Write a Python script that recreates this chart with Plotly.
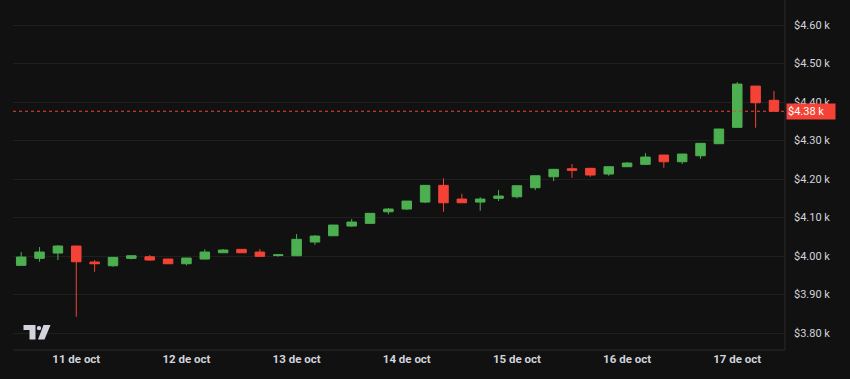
import plotly.graph_objects as go
import pandas as pd

# 4-hour candles, 10 Oct 12:00 -> 17 Oct 08:00
start = "2025-10-10 12:00"
opens  = [3975.8, 3994.0, 4007.8, 4026.0, 3984.4, 3974.8, 3994.0, 3998.2, 3992.2, 3980.0,
          3992.2, 4008.6, 4017.4, 4010.4, 4001.3, 4000.8, 4036.4, 4052.7, 4077.9, 4084.9,
          4115.0, 4122.1, 4140.2, 4183.6, 4148.0, 4140.2, 4149.9, 4154.0, 4177.4, 4205.9,
          4226.7, 4227.8, 4213.0, 4232.0, 4238.1, 4262.3, 4244.9, 4260.5, 4291.7, 4334.2,
          4441.4, 4404.4]
highs  = [4010.4, 4023.4, 4028.6, 4027.0, 3989.6, 3997.4, 4001.3, 4002.6, 3993.0, 3995.3,
          4017.4, 4018.2, 4018.2, 4018.2, 4005.2, 4057.1, 4054.5, 4080.5, 4096.1, 4111.7,
          4124.7, 4143.0, 4184.0, 4201.8, 4161.8, 4153.2, 4171.4, 4183.0, 4209.0, 4226.0,
          4238.9, 4229.3, 4232.5, 4244.1, 4267.5, 4262.3, 4265.5, 4293.5, 4330.5, 4451.8,
          4441.4, 4428.5]
lows   = [3975.5, 3985.2, 3989.6, 3842.4, 3959.2, 3972.2, 3991.4, 3987.8, 3979.2, 3975.8,
          3991.4, 4008.3, 4007.8, 3998.7, 3998.2, 4000.0, 4029.3, 4052.5, 4076.1, 4083.1,
          4108.3, 4119.5, 4137.6, 4115.0, 4138.0, 4117.7, 4142.8, 4149.9, 4171.4, 4194.8,
          4203.3, 4205.9, 4208.5, 4231.5, 4236.3, 4229.3, 4238.9, 4252.7, 4291.5, 4334.0,
          4333.2, 4376.0]
closes = [3997.4, 4010.4, 4026.0, 3985.2, 3980.0, 3996.6, 4000.8, 3989.6, 3980.0, 3994.8,
          4010.4, 4015.6, 4008.6, 3999.2, 4003.1, 4043.4, 4051.9, 4080.5, 4088.3, 4110.9,
          4122.1, 4142.8, 4183.6, 4138.4, 4138.4, 4148.0, 4155.8, 4182.6, 4208.5, 4225.2,
          4222.6, 4210.4, 4232.0, 4241.5, 4257.1, 4244.9, 4264.9, 4292.7, 4329.9, 4446.6,
          4398.1, 4376.0]
times = pd.date_range(start, periods=len(opens), freq="4h")

y_ticks = [3800, 3900, 4000, 4100, 4200, 4300, 4400, 4500, 4600]
y_ticktext = ["$3.80 k", "$3.90 k", "$4.00 k", "$4.10 k", "$4.20 k",
              "$4.30 k", "$4.40 k", "$4.50 k", "$4.60 k"]
x_ticks = ["2025-10-11", "2025-10-12", "2025-10-13", "2025-10-14",
           "2025-10-15", "2025-10-16", "2025-10-17"]
x_ticktext = ["11 de oct", "12 de oct", "13 de oct", "14 de oct",
              "15 de oct", "16 de oct", "17 de oct"]
last_label = "$4.38 k"

GREEN = "#4caf50"
RED = "#f44336"
BG = "#111111"
TXT = "#d1d4dc"

fig = go.Figure(go.Candlestick(
    x=times, open=opens, high=highs, low=lows, close=closes,
    increasing=dict(line=dict(color=GREEN, width=1), fillcolor=GREEN),
    decreasing=dict(line=dict(color=RED, width=1), fillcolor=RED),
    whiskerwidth=0, hoverinfo="skip", showlegend=False,
))

W, H = 850, 379
L, R, T, B = 13, 785, 0, 350


def px(xp):
    return (xp - L) / (R - L)


def py(yp):
    return (B - yp) / (B - T)


shapes = [
    dict(type="line", xref="paper", yref="y", x0=0, x1=1, y0=closes[-1], y1=closes[-1],
         line=dict(color=RED, width=1, dash="dot")),
    dict(type="line", xref="paper", yref="paper", x0=1, x1=1, y0=0, y1=1,
         line=dict(color="#2a2a2a", width=1)),
    dict(type="line", xref="paper", yref="paper", x0=0, x1=1, y0=0, y1=0,
         line=dict(color="#2a2a2a", width=1)),
]
# TradingView logo approximation
logo = "#d1d4dc"
shapes.append(dict(type="path", xref="paper", yref="paper",
                   path=(f"M {px(23.5)},{py(325)} L {px(35.5)},{py(325)} L {px(35.5)},{py(339.5)} "
                         f"L {px(29.5)},{py(339.5)} L {px(29.5)},{py(330)} L {px(23.5)},{py(330)} Z"),
                   fillcolor=logo, line=dict(width=0)))
shapes.append(dict(type="circle", xref="paper", yref="paper",
                   x0=px(36.8), x1=px(41.2), y0=py(330.3), y1=py(325.9),
                   fillcolor=logo, line=dict(width=0)))
shapes.append(dict(type="path", xref="paper", yref="paper",
                   path=(f"M {px(43.5)},{py(325)} L {px(50.5)},{py(325)} L {px(44.5)},{py(339.5)} "
                         f"L {px(38.0)},{py(339.5)} Z"),
                   fillcolor=logo, line=dict(width=0)))

fig.update_layout(
    width=W, height=H,
    margin=dict(l=L, r=W - R, t=T, b=H - B),
    paper_bgcolor=BG, plot_bgcolor=BG,
    boxgap=0.26,
    font=dict(family="Roboto", size=11, color=TXT),
    shapes=shapes,
    annotations=[dict(xref="paper", yref="y", x=1, y=closes[-1], xanchor="left", yanchor="middle",
                      text=last_label, showarrow=False, bgcolor=RED,
                      font=dict(color="#ffffff", size=11, family="Roboto"),
                      borderpad=1, xshift=1, width=46, align="left")],
    xaxis=dict(range=["2025-10-10 10:13", "2025-10-17 10:24"],
               tickvals=x_ticks, ticktext=x_ticktext, showgrid=False,
               rangeslider=dict(visible=False), zeroline=False, ticks="",
               tickfont=dict(size=11.5, color=TXT, family="Roboto", weight="bold"),
               showline=False),
    yaxis=dict(side="right", range=[3756, 4665], tickvals=y_ticks, ticktext=y_ticktext,
               showgrid=True, gridcolor="#1f1f1f", gridwidth=1, zeroline=False, ticks="",
               ticklabelstandoff=8, tickfont=dict(size=11, color=TXT, family="Roboto")),
)

fig.write_html("out.html")
